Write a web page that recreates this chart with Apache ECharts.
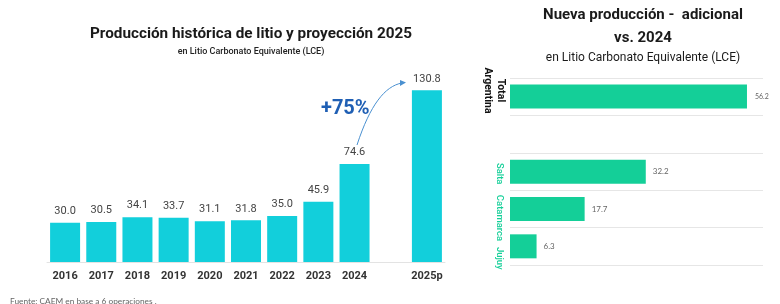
<!DOCTYPE html>
<html><head><meta charset="utf-8">
<script src="https://cdn.jsdelivr.net/npm/echarts@6/dist/echarts.min.js"></script>
<style>html,body{margin:0;padding:0;background:#fff}#c{width:780px;height:304px}</style>
</head><body><div id="c"></div>
<script>
const years = ['2016','2017','2018','2019','2020','2021','2022','2023','2024','','2025p'];
const production = [30.0,30.5,34.1,33.7,31.1,31.8,35.0,45.9,74.6,null,130.8];
const totalCat = ['Total\nArgentina'];
const totalVal = [56.2];
const provinces = ['Salta','Catamarca','Jujuy'];
const provinceVals = [32.2,17.7,6.3];

const chart = echarts.init(document.getElementById('c'));
const barC = '#12cfdb', greenC = '#14cf98';
const provFont = {fontFamily:'Roboto',fontWeight:'500',fontSize:9.5,color:greenC};
chart.setOption({
  animation:false,
  title:[
    {text:'Producción histórica de litio y proyección 2025',left:246,top:22,textAlign:'center',
     textStyle:{fontFamily:'Roboto',fontWeight:'bold',fontSize:15.3,color:'#1a1a1a'}},
    {text:'en Litio Carbonato Equivalente (LCE)',left:246,top:42,textAlign:'center',
     textStyle:{fontFamily:'Roboto',fontWeight:'500',fontSize:9,color:'#222'}},
    {text:'Nueva producción -  adicional',left:638,top:3,textAlign:'center',
     textStyle:{fontFamily:'Roboto',fontWeight:'bold',fontSize:15,color:'#1a1a1a'}},
    {text:'vs. 2024',left:638,top:26,textAlign:'center',
     textStyle:{fontFamily:'Roboto',fontWeight:'bold',fontSize:15,color:'#1a1a1a'}},
    {text:'en Litio Carbonato Equivalente (LCE)',left:638,top:47,textAlign:'center',
     textStyle:{fontFamily:'Roboto',fontWeight:'normal',fontSize:12,color:'#1a1a1a'}},
    {text:'Fuente: CAEM en base a 6 operaciones .',left:5,top:292,
     textStyle:{fontFamily:'Lato',fontWeight:'normal',fontSize:8.3,color:'#666'}}
  ],
  grid:[
    {left:47,width:398,top:52,bottom:42},
    {left:510,width:253,top:78,height:37},
    {left:510,width:253,top:153,height:112}
  ],
  xAxis:[
    {gridIndex:0,type:'category',data:years,axisTick:{show:false},
     axisLine:{lineStyle:{color:'#e3e3e3'}},
     axisLabel:{interval:0,fontFamily:'Roboto',fontWeight:'bold',fontSize:11,color:'#333',margin:9}},
    {gridIndex:1,type:'value',min:0,max:60,show:false},
    {gridIndex:2,type:'value',min:0,max:60,show:false}
  ],
  yAxis:[
    {gridIndex:0,type:'value',min:0,max:160,show:false},
    {gridIndex:1,type:'category',data:totalCat,axisTick:{show:false},axisLine:{show:false},
     splitLine:{show:true,lineStyle:{color:'#e6e6e6'}},
     axisLabel:{interval:0,rotate:-90,align:'center',verticalAlign:'top',margin:3,padding:[0,12,0,0],
                fontFamily:'Roboto',fontWeight:'bold',fontSize:10.5,color:'#111',lineHeight:13}},
    {gridIndex:2,type:'category',data:provinces,inverse:true,axisTick:{show:false},axisLine:{show:false},
     splitLine:{show:true,lineStyle:{color:'#e6e6e6'}},
     axisLabel:{interval:0,rotate:-90,align:'center',verticalAlign:'top',margin:6,
                formatter:(v,i)=>'{p'+i+'|'+v+'}',
                rich:{p0:Object.assign({padding:[0,0,0,4]},provFont),
                      p1:Object.assign({padding:[0,0,0,18]},provFont),
                      p2:Object.assign({padding:[0,0,0,24]},provFont)}}}
  ],
  series:[
    {type:'bar',xAxisIndex:0,yAxisIndex:0,data:production,barWidth:30,itemStyle:{color:barC},
     label:{show:true,position:'top',distance:6,fontFamily:'Roboto',fontSize:11,color:'#444',
            formatter:p=>p.value==null?'':p.value.toFixed(1)}},
    {type:'bar',xAxisIndex:1,yAxisIndex:1,data:totalVal,barWidth:24,itemStyle:{color:greenC},
     label:{show:true,position:'right',distance:8,fontFamily:'Lato',fontSize:7,color:'#666',
            formatter:p=>p.value.toFixed(1)}},
    {type:'bar',xAxisIndex:2,yAxisIndex:2,data:provinceVals,barWidth:24,itemStyle:{color:greenC},
     label:{show:true,position:'right',distance:7,fontFamily:'Lato',fontSize:8,color:'#666',
            formatter:p=>p.value.toFixed(1)}}
  ],
  graphic:[
    {type:'text',left:321,top:99,style:{text:'+75%',fontFamily:'Roboto',fontWeight:'bold',fontSize:20,fill:'#1f5fb4'}},
    {type:'bezierCurve',shape:{x1:357,y1:145,x2:402,y2:83,cpx1:370,cpy1:105,cpx2:385,cpy2:86},
     style:{stroke:'#4a90d0',lineWidth:1,fill:null}},
    {type:'polygon',shape:{points:[[406,82.5],[400,80],[400,86]]},style:{fill:'#4a90d0'}}
  ]
});
</script></body></html>
